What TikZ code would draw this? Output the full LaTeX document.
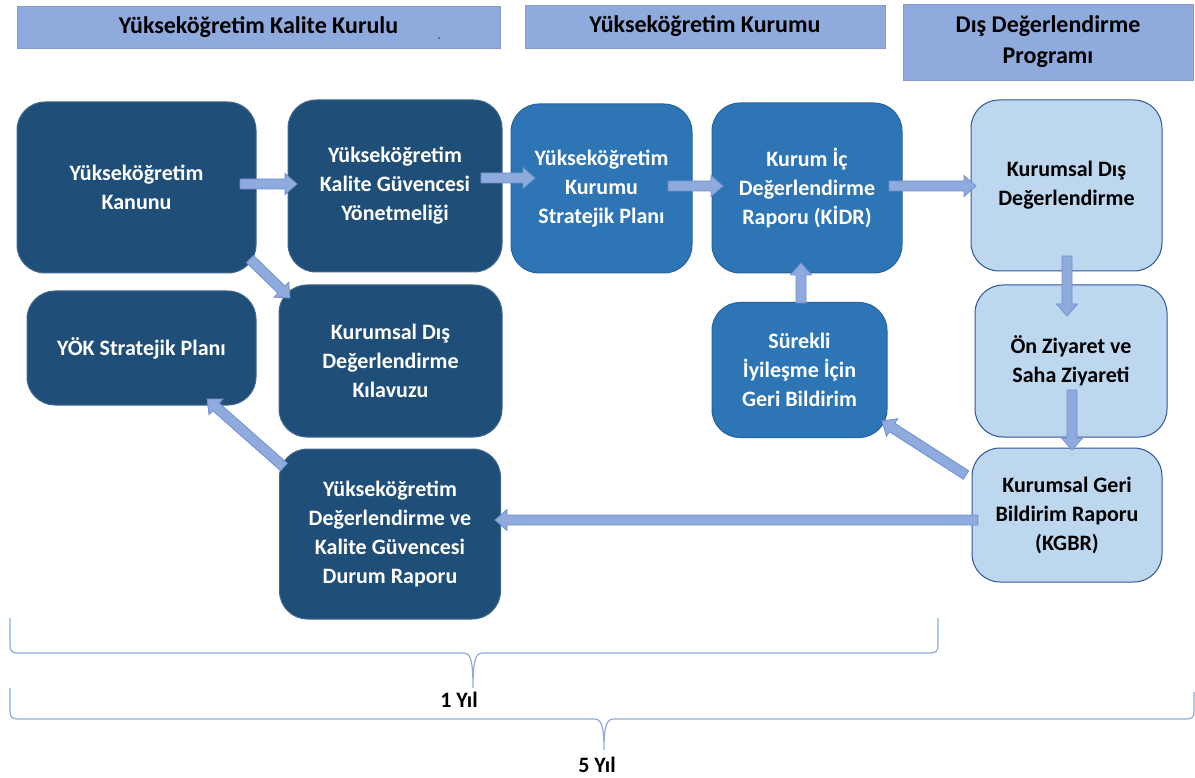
\documentclass[tikz,border=0pt]{standalone}
\usepackage{fontspec}
\setmainfont{Carlito}
\usetikzlibrary{calc}
\definecolor{hdr}{HTML}{8FAADC}
\definecolor{navy}{HTML}{1F4E79}
\definecolor{midblue}{HTML}{2E75B6}
\definecolor{lightblue}{HTML}{BDD7EE}
\definecolor{edgeblue}{HTML}{2F5597}
\definecolor{arrfill}{HTML}{8FAADC}
\definecolor{arredge}{HTML}{7090D0}
\definecolor{brc}{HTML}{8FAADC}
\tikzset{
 box/.style={rounded corners=28pt, align=center, font=\fontsize{22}{29}\selectfont\bfseries, inner sep=0pt, line width=1pt},
 darkbox/.style={box, fill=navy, draw=navy!85!white, text=white},
 midbox/.style={box, fill=midblue, draw=midblue!85!black, text=white},
 lightbox/.style={box, fill=lightblue, draw=edgeblue, text=black},
 hdrbar/.style={fill=hdr, draw=hdr!92!black, line width=0.5pt, align=center, font=\fontsize{24}{31}\selectfont\bfseries, inner sep=0pt},
 blockarrow/.style={fill=arrfill, draw=arredge, line width=0.8pt, line join=miter},
 bracesty/.style={draw=brc, line width=1.2pt},
 lbl/.style={font=\fontsize{22}{26}\selectfont\bfseries, inner sep=0pt}
}
\newcommand\barrow[2]{%
  \coordinate (bahead) at ($(#2)!12pt!(#1)$);
  \filldraw[blockarrow] ($(#1)!5pt!90:(#2)$) -- ($(bahead)!5pt!90:(#2)$) -- ($(bahead)!10.5pt!90:(#2)$) -- (#2) -- ($(bahead)!10.5pt!-90:(#2)$) -- ($(bahead)!5pt!-90:(#2)$) -- ($(#1)!5pt!-90:(#2)$) -- cycle;
}
\begin{document}
\begin{tikzpicture}[x=1pt,y=-1pt]
\useasboundingbox (0,0) rectangle (1195,778);
% header bars
\node[hdrbar, minimum width=483, minimum height=42] (h1) at (258.5,27) {Yükseköğretim Kalite Kurulu};
\node[hdrbar, minimum width=360, minimum height=43] (h2) at (705,26.5) {Yükseköğretim Kurumu};
\node[hdrbar, minimum width=290, minimum height=76] (h3) at (1048,42) {Dış Değerlendirme\\Programı};
\fill[black!75] (439,38) circle (0.9);
% boxes
\node[darkbox, minimum width=239, minimum height=171] (b1) at (136.5,187.5) {Yükseköğretim\\Kanunu};
\node[darkbox, minimum width=214, minimum height=172] (b2) at (395,186) {Yükseköğretim\\Kalite Güvencesi\\Yönetmeliği};
\node[darkbox, minimum width=229, minimum height=114] (b3) at (141.5,348) {YÖK Stratejik Planı};
\node[darkbox, minimum width=223, minimum height=152] (b4) at (390.5,361) {Kurumsal Dış\\Değerlendirme\\Kılavuzu};
\node[darkbox, minimum width=221, minimum height=170] (b5) at (390,534) {Yükseköğretim\\Değerlendirme ve\\Kalite Güvencesi\\Durum Raporu};
\node[midbox, minimum width=181, minimum height=169] (b6) at (601.5,188.5) {Yükseköğretim\\Kurumu\\Stratejik Planı};
\node[midbox, minimum width=190, minimum height=170] (b7) at (807,188) {Kurum İç\\Değerlendirme\\Raporu (KİDR)};
\node[midbox, minimum width=175, minimum height=135] (b11) at (799.5,370) {Sürekli\\İyileşme İçin\\Geri Bildirim};
\node[lightbox, minimum width=191, minimum height=171] (b8) at (1066.5,185.5) {Kurumsal Dış\\Değerlendirme};
\node[lightbox, minimum width=192, minimum height=152] (b9) at (1071,361) {Ön Ziyaret ve\\Saha Ziyareti};
\node[lightbox, minimum width=190, minimum height=134] (b10) at (1067,515) {Kurumsal Geri\\Bildirim Raporu\\(KGBR)};
% arrow end points
\coordinate (a1s) at (240,184); \coordinate (a1e) at (297,184);
\coordinate (a2s) at (481,178); \coordinate (a2e) at (535,178);
\coordinate (a3s) at (668,186); \coordinate (a3e) at (723,186);
\coordinate (a4s) at (889,186); \coordinate (a4e) at (976,186);
\coordinate (a5s) at (1067,256); \coordinate (a5e) at (1067,316);
\coordinate (a6s) at (1072,390); \coordinate (a6e) at (1072,450);
\coordinate (a7s) at (801,303); \coordinate (a7e) at (801,263);
\coordinate (a8s) at (966,475); \coordinate (a8e) at (882,421);
\coordinate (a9s) at (978,520); \coordinate (a9e) at (495,520);
\coordinate (a10s) at (250,259); \coordinate (a10e) at (290,298);
\coordinate (a11s) at (284,467); \coordinate (a11e) at (207,399);
\barrow{a1s}{a1e}
\barrow{a2s}{a2e}
\barrow{a3s}{a3e}
\barrow{a4s}{a4e}
\barrow{a5s}{a5e}
\barrow{a6s}{a6e}
\barrow{a7s}{a7e}
\barrow{a8s}{a8e}
\barrow{a9s}{a9e}
\barrow{a10s}{a10e}
\barrow{a11s}{a11e}
% braces
\draw[bracesty] (10,618) -- (10,645) .. controls (10,651) and (12,653) .. (18,653) -- (463,653) .. controls (470,653) and (473,658) .. (473,688) .. controls (473,658) and (476,653) .. (483,653) -- (930,653) .. controls (936,653) and (938,651) .. (938,645) -- (938,618);
\draw[bracesty] (10,688) -- (10,711) .. controls (10,717) and (12,719) .. (18,719) -- (594,719) .. controls (601,719) and (604,724) .. (604,750) .. controls (604,724) and (607,719) .. (614,719) -- (1186,719) .. controls (1192,719) and (1194,717) .. (1194,711) -- (1194,692);
\node[lbl] (y1) at (459,700) {1 Yıl};
\node[lbl] (y5) at (597,765) {5 Yıl};
\end{tikzpicture}
\end{document}
